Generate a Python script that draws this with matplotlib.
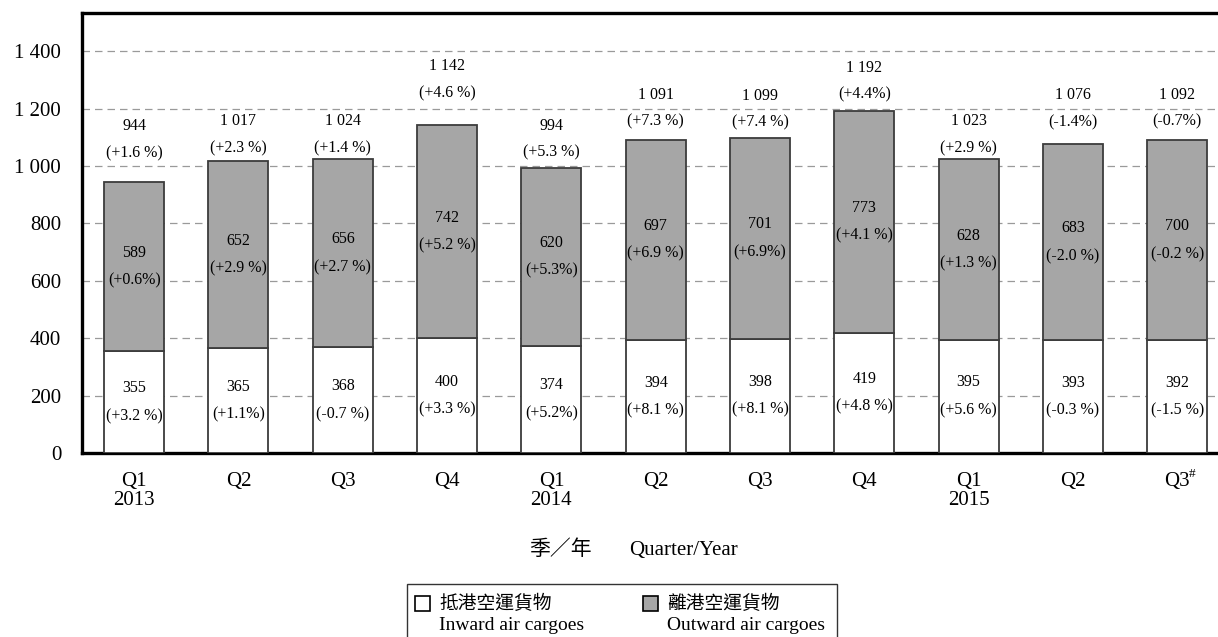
import numpy as np
import matplotlib.pyplot as plt
from matplotlib.patches import Rectangle

plt.rcParams['font.family'] = ['Liberation Serif', 'Noto Sans CJK TC', 'DejaVu Sans']

# 季度資料 (千公噸)
quarters = ['Q1\n2013', 'Q2', 'Q3', 'Q4', 'Q1\n2014', 'Q2', 'Q3', 'Q4',
            'Q1\n2015', 'Q2', 'Q3']
inward = [355, 365, 368, 400, 374, 394, 398, 419, 395, 393, 392]
outward = [589, 652, 656, 742, 620, 697, 701, 773, 628, 683, 700]
total = [944, 1017, 1024, 1142, 994, 1091, 1099, 1192, 1023, 1076, 1092]
inward_chg = ['(+3.2 %)', '(+1.1%)', '(-0.7 %)', '(+3.3 %)', '(+5.2%)', '(+8.1 %)',
              '(+8.1 %)', '(+4.8 %)', '(+5.6 %)', '(-0.3 %)', '(-1.5 %)']
outward_chg = ['(+0.6%)', '(+2.9 %)', '(+2.7 %)', '(+5.2 %)', '(+5.3%)', '(+6.9 %)',
               '(+6.9%)', '(+4.1 %)', '(+1.3 %)', '(-2.0 %)', '(-0.2 %)']
total_chg = ['(+1.6 %)', '(+2.3 %)', '(+1.4 %)', '(+4.6 %)', '(+5.3 %)', '(+7.3 %)',
             '(+7.4 %)', '(+4.4%)', '(+2.9 %)', '(-1.4%)', '(-0.7%)']
yticks = [0, 200, 400, 600, 800, 1000, 1200, 1400]


def fmt(v):
    return f'{v:,}'.replace(',', ' ')


W, H = 1218, 637
fig = plt.figure(figsize=(W / 100, H / 100), dpi=100)
ax = fig.add_axes([82 / W, 1 - 453 / H, (W - 82) / W, 440 / H])

x = np.arange(len(quarters))
bw = 0.575
edge = '#3c3c3c'
ax.bar(x, inward, bw, color='white', edgecolor=edge, linewidth=1.3, zorder=3)
ax.bar(x, outward, bw, bottom=inward, color='#a6a6a6', edgecolor=edge,
       linewidth=1.3, zorder=3)

ax.set_xlim(-0.5, 10.39)
ax.set_ylim(0, 1533)
ax.set_yticks(yticks)
ax.set_yticklabels([fmt(v) for v in yticks])
ax.set_xticks(x)
ax.set_xticklabels(quarters, linespacing=1.0)
ax.tick_params(axis='both', length=0, labelsize=15)
ax.tick_params(axis='y', pad=15)
ax.tick_params(axis='x', pad=14)
ax.yaxis.grid(True, linestyle=(0, (6, 4)), color='#9a9a9a', linewidth=0.9, zorder=0)
ax.set_axisbelow(True)

# 最後一季為臨時數字 (#)
ax.annotate('#', (x[-1], 0), xytext=(8.5, -15), textcoords='offset points',
            ha='left', va='center', fontsize=9.5, annotation_clip=False)

for s in ['left', 'top', 'bottom']:
    ax.spines[s].set_linewidth(2.4)
    ax.spines[s].set_color('black')
ax.spines['right'].set_visible(False)

fs = 11.5
# 各段數值 (置於段中央)
for i in range(len(x)):
    mid_in = inward[i] / 2
    mid_out = inward[i] + outward[i] / 2
    for mid, v, c in [(mid_in, inward[i], inward_chg[i]),
                      (mid_out, outward[i], outward_chg[i])]:
        ax.annotate(fmt(v), (x[i], mid), xytext=(0, 10), textcoords='offset points',
                    ha='center', va='center', fontsize=fs, zorder=4)
        ax.annotate(c, (x[i], mid), xytext=(0, -10), textcoords='offset points',
                    ha='center', va='center', fontsize=fs, zorder=4)

# 總數標籤 (bar 頂上方距離, px)
lift = [29, 13, 11, 32, 15, 18, 15, 16, 11, 22, 18]
for i in range(len(x)):
    ax.annotate(total_chg[i], (x[i], total[i]), xytext=(0, lift[i] * 0.72),
                textcoords='offset points', ha='center', va='center', fontsize=fs)
    ax.annotate(fmt(total[i]), (x[i], total[i]), xytext=(0, (lift[i] + 27) * 0.72),
                textcoords='offset points', ha='center', va='center', fontsize=fs)


def px(xp, yp):
    return xp / W, 1 - yp / H


# 橫軸標題
fig.text(*px(560, 550), '季／年', ha='center', va='center', fontsize=15)
fig.text(*px(684, 550), 'Quarter/Year', ha='center', va='center', fontsize=15)

# 圖例
lx, ly = px(407, 584)
fig.add_artist(Rectangle((lx, ly - 70 / H), 430 / W, 70 / H, transform=fig.transFigure,
                         facecolor='white', edgecolor='#333333', linewidth=1.0))
for x0, fc, zh, en in [(415, 'white', '抵港空運貨物', 'Inward air cargoes'),
                       (643, '#a6a6a6', '離港空運貨物', 'Outward air cargoes')]:
    bx, by = px(x0, 611)
    fig.add_artist(Rectangle((bx, by), 15 / W, 15 / H, transform=fig.transFigure,
                             facecolor=fc, edgecolor='black', linewidth=1.2))
    fig.text(*px(x0 + 24, 604), zh, ha='left', va='center', fontsize=13.5)
    fig.text(*px(x0 + 24, 625), en, ha='left', va='center', fontsize=14)

fig.savefig('out.png', dpi=100)
